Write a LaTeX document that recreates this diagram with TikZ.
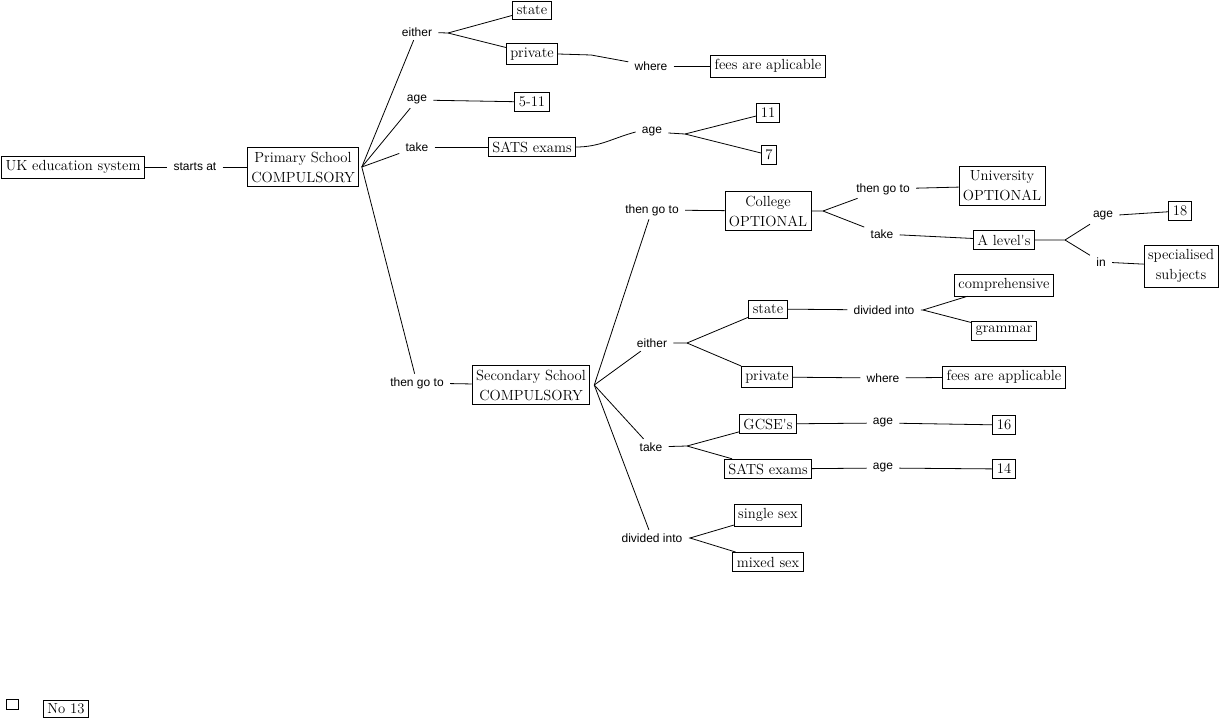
\documentclass[tikz,border=0pt]{standalone}
\usepackage{fontspec}
\newfontfamily\lblfont{Liberation Sans}
\begin{document}
\begin{tikzpicture}[x=0.75pt, y=-0.75pt, line width=0.6pt,
    box/.style={draw, fill=white, inner xsep=3pt, inner ysep=3.3pt, align=center, font=\fontsize{11}{15}\selectfont},
    lbl/.style={inner xsep=4.5pt, inner ysep=2.5pt, font=\lblfont\fontsize{9}{10}\selectfont}]
    \useasboundingbox (0,0) rectangle (1225,721);

    % 1. primary school part
    \node[box] (uk) at (73,167) {UK education system};
    \node[lbl] (startsat) at (195,167) {starts at};
    \node[box] (primary) at (303,167) {Primary School\\COMPULSORY};
    \node[lbl] (eitherP) at (417,32) {either};
    \node[box] (stateP) at (532,10) {state};
    \node[box] (privateP) at (532,54) {private};
    \node[lbl] (whereP) at (651,66) {where};
    \node[box] (feesP) at (768,66) {fees are aplicable};
    \node[lbl] (ageP) at (417,100) {age};
    \node[box] (fiveeleven) at (532,102) {5-11};
    \node[lbl] (takeP) at (417,147) {take};
    \node[box] (satsP) at (532,147) {SATS exams};
    \node[lbl] (ageSats) at (652,132) {age};
    \node[box] (eleven) at (768,113) {11};
    \node[box] (seven) at (769,155) {7};

    % 2. secondary school part
    \node[lbl] (thengoP) at (417,383) {then go to};
    \node[box] (secondary) at (531,385) {Secondary School\\COMPULSORY};
    \node[lbl] (thengoS) at (652,210) {then go to};
    \node[box] (college) at (768,211) {College\\OPTIONAL};
    \node[lbl] (thengoC) at (883,189) {then go to};
    \node[box] (university) at (1002,186) {University\\OPTIONAL};
    \node[lbl] (takeC) at (882,234) {take};
    \node[box] (alevels) at (1004,240) {A level{\textquotesingle}s};
    \node[lbl] (ageA) at (1103,216) {age};
    \node[box] (eighteen) at (1180,211) {18};
    \node[lbl] (inA) at (1101,262) {in};
    \node[box] (specialised) at (1181,266) {specialised\\subjects};
    \node[lbl] (eitherS) at (652,343) {either};
    \node[box] (stateS) at (768,309) {state};
    \node[lbl] (dividedS) at (884,310) {divided into};
    \node[box] (compreh) at (1004,285) {comprehensive};
    \node[box] (grammar) at (1004,331) {grammar};
    \node[box] (privateS) at (767,377) {private};
    \node[lbl] (whereS) at (883,378) {where};
    \node[box] (feesS) at (1004,377) {fees are applicable};
    \node[lbl] (takeS) at (651,447) {take};
    \node[box] (gcse) at (768,424) {GCSE{\textquotesingle}s};
    \node[lbl] (ageG) at (883,423) {age};
    \node[box] (sixteen) at (1004,425) {16};
    \node[box] (satsS) at (768,469) {SATS exams};
    \node[lbl] (ageT) at (883,468) {age};
    \node[box] (fourteen) at (1004,469) {14};
    \node[lbl] (dividedSex) at (652,538) {divided into};
    \node[box] (single) at (768,515) {single sex};
    \node[box] (mixed) at (768,562) {mixed sex};

    % 3. bottom left
    \node[draw, minimum width=9pt, minimum height=7.5pt, inner sep=0pt] (blank) at (12,704) {};
    \node[box, inner ysep=2.5pt] (nothirteen) at (66,709) {No 13};

    % 4. fork points
    \coordinate (pfork) at ([xshift=2]primary.east);
    \coordinate (sfork) at ([xshift=3]secondary.east);
    \coordinate (efork) at (448,33);
    \coordinate (agefork) at (685,134);
    \coordinate (cfork) at (823,211);
    \coordinate (afork) at (1065,240);
    \coordinate (e2fork) at (687,343);
    \coordinate (dfork) at (923,310);
    \coordinate (tfork) at (687,446);
    \coordinate (d2fork) at (690,538);

    % 5. connectors
    \draw (uk) -- (startsat) -- (primary);
    \draw (pfork) -- (eitherP);
    \draw (pfork) -- (ageP);
    \draw (pfork) -- (takeP);
    \draw (pfork) -- (thengoP);
    \draw (eitherP) -- (efork) -- (stateP);
    \draw (efork) -- (privateP);
    \draw (privateP.east) -- +(33,1) -- (whereP);
    \draw (whereP) -- (feesP);
    \draw (ageP) -- (fiveeleven);
    \draw (takeP) -- (satsP);
    \draw (satsP.east) to[out=0, in=195] (ageSats.west);
    \draw (ageSats) -- (agefork) -- (eleven);
    \draw (agefork) -- (seven);

    \draw (thengoP) -- (secondary);
    \draw (sfork) -- (thengoS);
    \draw (sfork) -- (eitherS);
    \draw (sfork) -- (takeS);
    \draw (sfork) -- (dividedSex);
    \draw (thengoS) -- (college);
    \draw (college.east) -- (cfork) -- (thengoC);
    \draw (cfork) -- (takeC);
    \draw (thengoC) -- (university);
    \draw (takeC) -- (alevels);
    \draw (alevels.east) -- (afork) -- (ageA);
    \draw (afork) -- (inA);
    \draw (ageA) -- (eighteen);
    \draw (inA) -- (specialised);
    \draw (eitherS) -- (e2fork) -- (stateS);
    \draw (e2fork) -- (privateS);
    \draw (stateS) -- (dividedS);
    \draw (dividedS) -- (dfork) -- (compreh);
    \draw (dfork) -- (grammar);
    \draw (privateS) -- (whereS) -- (feesS);
    \draw (takeS) -- (tfork) -- (gcse);
    \draw (tfork) -- (satsS);
    \draw (gcse) -- (ageG) -- (sixteen);
    \draw (satsS) -- (ageT) -- (fourteen);
    \draw (dividedSex) -- (d2fork) -- (single);
    \draw (d2fork) -- (mixed);
\end{tikzpicture}
\end{document}
